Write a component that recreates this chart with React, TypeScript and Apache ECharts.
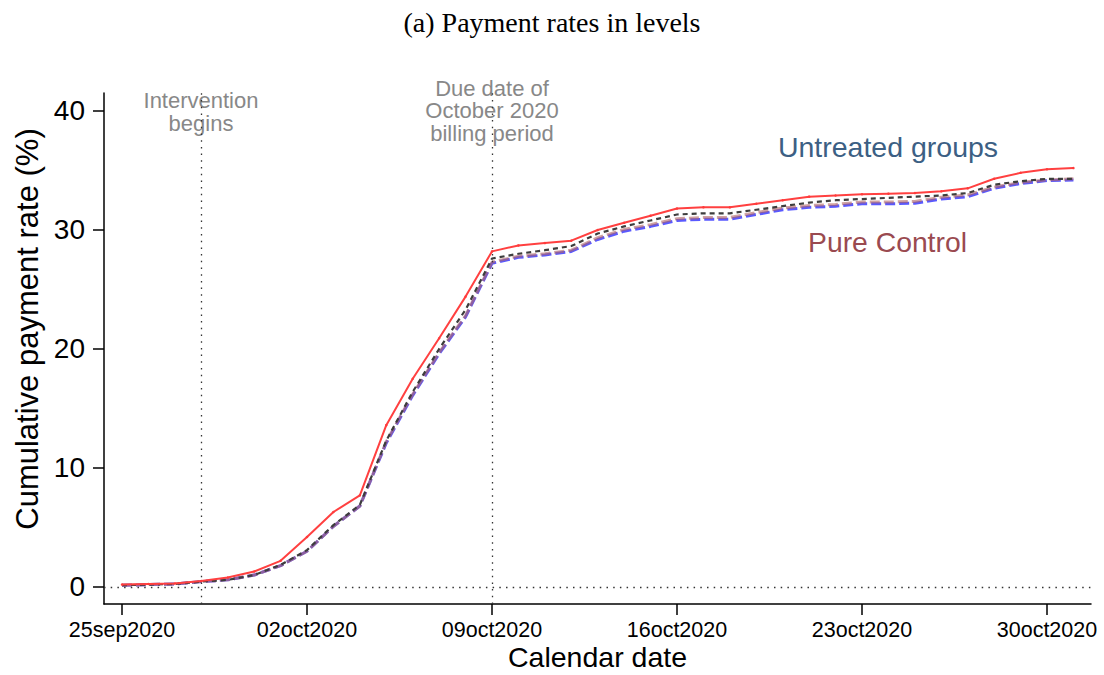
import React, { useEffect, useRef } from "react";
import * as echarts from "echarts";

// Day offsets from 25sep2020 (0) to 31oct2020 (36)
const days: number[] = Array.from({ length: 37 }, (_, i) => i);
const tickDays = [0, 7, 14, 21, 28, 35];
const tickLabels = ["25sep2020", "02oct2020", "09oct2020", "16oct2020", "23oct2020", "30oct2020"];
const yTicks = [0, 10, 20, 30, 40];
const refDays = [3, 14];

const treated = [
  0.2, 0.25, 0.3, 0.5, 0.8, 1.3, 2.2, 4.2, 6.3, 7.7, 13.6, 17.5, 20.9, 24.4, 28.2, 28.7, 28.9, 29.1,
  30.0, 30.6, 31.2, 31.8, 31.9, 31.9, 32.2, 32.5, 32.8, 32.9, 33.0, 33.05, 33.1, 33.25, 33.5, 34.3,
  34.8, 35.1, 35.2,
];
const untreatedOther = [
  0.15, 0.2, 0.25, 0.45, 0.6, 1.0, 1.85, 3.1, 5.2, 6.9, 12.3, 16.4, 20.0, 23.3, 27.6, 28.0, 28.3,
  28.65, 29.7, 30.3, 30.8, 31.3, 31.4, 31.4, 31.7, 32.0, 32.3, 32.5, 32.6, 32.7, 32.8, 32.9, 33.1,
  33.8, 34.1, 34.3, 34.3,
];
const pureControl = [
  0.15, 0.2, 0.25, 0.45, 0.6, 1.0, 1.8, 3.0, 5.1, 6.8, 12.2, 16.2, 19.7, 22.8, 27.3, 27.8, 28.0,
  28.3, 29.35, 30.05, 30.45, 30.95, 31.05, 31.05, 31.45, 31.85, 32.05, 32.15, 32.35, 32.35, 32.4,
  32.75, 32.95, 33.6, 34.0, 34.2, 34.3,
];
const blueGroup = [
  0.15, 0.2, 0.25, 0.45, 0.6, 1.0, 1.8, 3.0, 5.1, 6.8, 12.1, 16.1, 19.6, 22.7, 27.2, 27.7, 27.9,
  28.2, 29.2, 29.9, 30.3, 30.8, 30.9, 30.9, 31.3, 31.7, 31.9, 32.0, 32.2, 32.2, 32.25, 32.6, 32.8,
  33.5, 33.9, 34.15, 34.2,
];

const toPairs = (arr: number[]) => days.map((d, i) => [d, arr[i]]);

const SANS = "Liberation Sans, Arial, sans-serif";

export default function App() {
  const ref = useRef<HTMLDivElement>(null);
  useEffect(() => {
    if (!ref.current) return;
    const chart = echarts.init(ref.current, undefined, { renderer: "svg" });
    const dotted = { color: "#333", width: 1.3, type: [1.5, 5.2] as number[] };
    chart.setOption({
      animation: false,
      backgroundColor: "#fff",
      grid: { left: 104, right: 13, top: 93, bottom: 71 },
      xAxis: {
        type: "value",
        min: -0.681,
        max: 36.665,
        splitLine: { show: false },
        axisLine: { show: true, onZero: false, lineStyle: { color: "#000", width: 1.5 } },
        axisTick: { show: true, customValues: tickDays, length: 11, lineStyle: { color: "#000", width: 1.5 } },
        axisLabel: {
          customValues: tickDays,
          formatter: (v: number) => tickLabels[tickDays.indexOf(v)] ?? "",
          color: "#000",
          fontSize: 21.5,
          fontFamily: SANS,
          margin: 15,
        },
      },
      yAxis: {
        type: "value",
        min: -1.43,
        max: 41.51,
        splitLine: { show: false },
        axisLine: { show: true, onZero: false, lineStyle: { color: "#000", width: 1.5 } },
        axisTick: { show: true, customValues: yTicks, length: 11, lineStyle: { color: "#000", width: 1.5 } },
        axisLabel: {
          customValues: yTicks,
          color: "#000",
          fontSize: 28,
          fontFamily: SANS,
          margin: 19,
        },
      },
      series: [
        {
          type: "line",
          data: toPairs(blueGroup),
          symbol: "none",
          lineStyle: { color: "rgba(60,60,255,0.85)", width: 3, type: [10, 4] },
          z: 2,
          markLine: {
            silent: true,
            symbol: "none",
            label: { show: false },
            lineStyle: dotted,
            data: [...refDays.map((d) => ({ xAxis: d })), { yAxis: 0 }],
          },
        },
        {
          type: "line",
          data: toPairs(pureControl),
          symbol: "none",
          lineStyle: { color: "rgba(176,100,100,0.6)", width: 3, type: [10, 4] },
          z: 3,
        },
        {
          type: "line",
          data: toPairs(untreatedOther),
          symbol: "none",
          lineStyle: { color: "#3d3d3d", width: 2.2, type: [5, 4] },
          z: 4,
        },
        {
          type: "line",
          data: toPairs(treated),
          symbol: "circle",
          symbolSize: 2.5,
          itemStyle: { color: "#ff3b3b" },
          lineStyle: { color: "#ff4040", width: 2 },
          z: 5,
        },
      ],
      graphic: [
        {
          type: "text",
          x: 552,
          y: 22,
          style: {
            text: "(a) Payment rates in levels",
            font: "28px 'Liberation Serif', 'Times New Roman', serif",
            fill: "#000",
            align: "center",
            verticalAlign: "middle",
          },
        },
        {
          type: "text",
          x: 201,
          y: 112,
          style: {
            text: "Intervention\nbegins",
            font: `22px ${SANS}`,
            lineHeight: 23,
            fill: "#888",
            align: "center",
            verticalAlign: "middle",
          },
        },
        {
          type: "text",
          x: 492,
          y: 110.5,
          style: {
            text: "Due date of\nOctober 2020\nbilling period",
            font: `22px ${SANS}`,
            lineHeight: 22.5,
            fill: "#888",
            align: "center",
            verticalAlign: "middle",
          },
        },
        {
          type: "text",
          x: 888,
          y: 147,
          style: {
            text: "Untreated groups",
            font: `28.5px ${SANS}`,
            fill: "#3c5f84",
            align: "center",
            verticalAlign: "middle",
          },
        },
        {
          type: "text",
          x: 887.5,
          y: 242,
          style: {
            text: "Pure Control",
            font: `28.3px ${SANS}`,
            fill: "#9a4a50",
            align: "center",
            verticalAlign: "middle",
          },
        },
        {
          type: "text",
          x: 27,
          y: 329,
          rotation: Math.PI / 2,
          style: {
            text: "Cumulative payment rate (%)",
            font: `31px ${SANS}`,
            fill: "#000",
            align: "center",
            verticalAlign: "middle",
          },
        },
        {
          type: "text",
          x: 597.5,
          y: 657,
          style: {
            text: "Calendar date",
            font: `28.5px ${SANS}`,
            fill: "#000",
            align: "center",
            verticalAlign: "middle",
          },
        },
      ],
    });
    return () => chart.dispose();
  }, []);
  return <div ref={ref} style={{ width: 1104, height: 675, position: "absolute", left: 0, top: 0 }} />;
}
